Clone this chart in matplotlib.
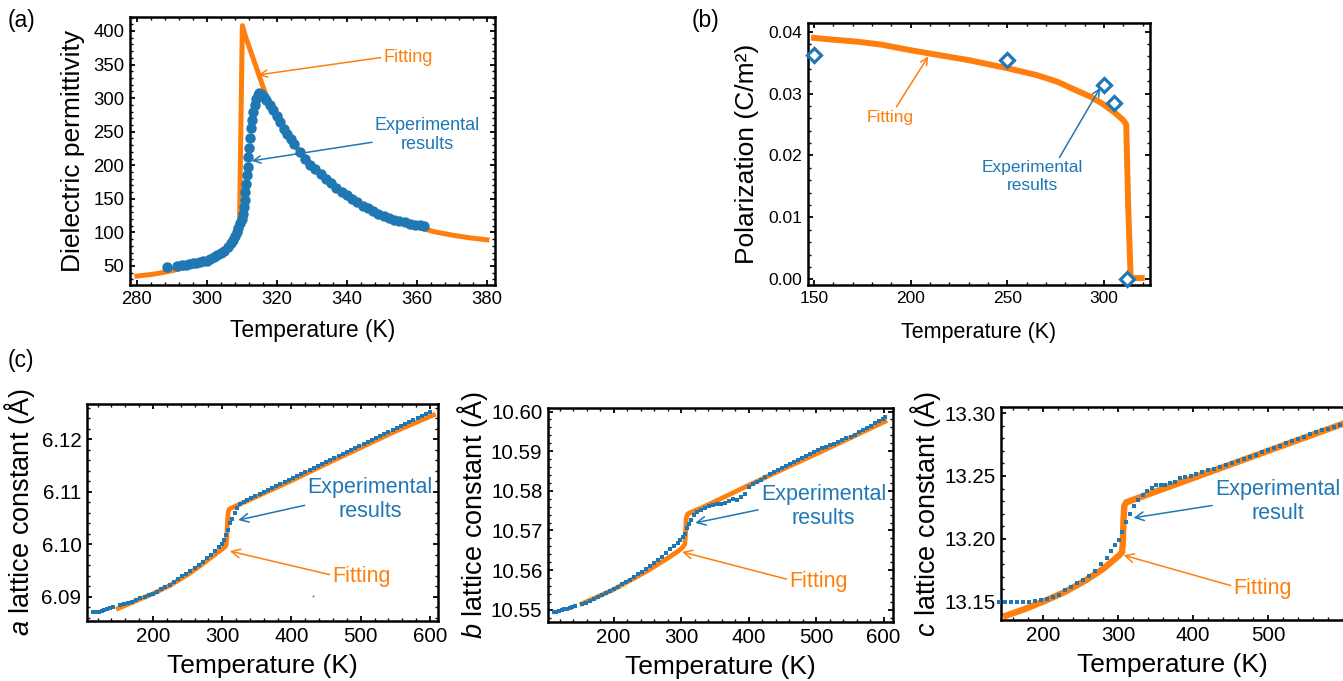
import numpy as np
import matplotlib
matplotlib.use("Agg")
import matplotlib.pyplot as plt
from matplotlib.ticker import AutoMinorLocator, MultipleLocator, FixedLocator, FormatStrFormatter

plt.rcParams['font.family'] = ['Liberation Sans', 'DejaVu Sans']
plt.rcParams['mathtext.fontset'] = 'custom'
plt.rcParams['mathtext.it'] = 'Liberation Sans:italic'
plt.rcParams['mathtext.rm'] = 'Liberation Sans'

orange = '#ff7f0e'
blue = '#1f77b4'

# (a) dielectric permittivity
a_exp_T = [288.7, 291.5, 293, 294, 295, 296, 297, 298, 299, 300, 301, 302, 303, 304, 305, 306, 307,
           307.5, 308, 308.5, 309, 309.5, 309.9, 310.2, 310.5, 310.8, 311, 311.2, 311.4, 311.6, 311.8,
           312, 312.2, 312.5, 312.8, 313.2, 313.6, 314, 314.5, 315, 315.5, 316.2, 317, 318, 319, 320,
           321, 322, 323, 324, 325, 326.5, 328, 329.5, 331, 332.5, 334, 335.5, 337, 338.5, 340, 341.5,
           343, 344.5, 346, 347.5, 349, 350.5, 352, 353.5, 355, 356.5, 358, 359.5, 361, 362]
a_exp_eps = [49, 50, 51, 52, 53, 54, 55, 56, 57, 58, 60, 63, 66, 69, 73, 78, 84,
             89, 94, 100, 106, 114, 120, 128, 138, 148, 160, 172, 185, 198, 212,
             226, 240, 255, 268, 280, 290, 298, 304, 307, 306, 302, 297, 290, 282, 274,
             264, 254, 246, 239, 232, 220, 210, 201, 194, 187, 180, 173, 166, 160, 155, 150,
             145, 140, 136, 132, 128, 125, 122, 119, 117, 115, 113, 111.5, 110.5, 110]
a_fit_T = [280, 285, 290, 294, 298, 301, 303, 305, 306.5, 307.5, 308.2, 308.8, 309.3, 310.1, 311, 312,
           313, 314, 315, 316, 317, 318, 319, 320, 322, 324, 326, 328, 330, 333, 336, 340, 344, 348,
           352, 356, 360, 365, 370, 375, 380]
a_fit_eps = [35, 38, 43, 48, 54, 60, 65, 71, 78, 85, 92, 100, 115, 408, 392, 377,
             362, 347, 332, 317, 303, 292, 282, 272, 254, 238, 224, 211, 199, 184, 171, 155, 142, 131,
             122, 114, 108, 101, 96, 92, 89]

# (b) polarization
b_fit_T = [150, 160, 172, 185, 200, 215, 230, 250, 265, 276, 285, 293, 300, 306, 310, 311.5, 312.5,
           313.8, 316, 319.5]
b_fit_P = [0.0390, 0.0387, 0.0384, 0.0379, 0.0370, 0.0362, 0.0354, 0.0341, 0.0330, 0.0319, 0.0306,
           0.0295, 0.0282, 0.0268, 0.0257, 0.0250, 0.0120, 0.0002, 0.0002, 0.0002]
b_exp_T = [150, 250, 300, 305, 312]
b_exp_P = [0.0362, 0.0355, 0.0314, 0.0284, 0.0]

# (c) a lattice constant
ca_exp_T = [114, 118, 122, 126, 130, 134, 138, 142, 152, 158, 164, 170, 176, 182, 188, 194, 200,
            206, 212, 218, 224, 230, 236, 242, 248, 254, 260, 266, 272, 278, 284, 290, 295, 299,
            302, 305, 308, 311, 314, 318, 322, 326, 331, 336, 342, 348, 354, 360, 366, 372, 378,
            384, 390, 396, 402, 408, 414, 420, 426, 432, 438, 444, 450, 456, 462, 468, 474, 480,
            486, 492, 498, 504, 510, 516, 522, 528, 534, 540, 546, 552, 558, 564, 570, 576, 582,
            588, 594, 600]
ca_exp_a = [6.0871, 6.0871, 6.0872, 6.0873, 6.0875, 6.0876, 6.0878, 6.0880, 6.0884, 6.0886, 6.0888,
            6.0891, 6.0894, 6.0897, 6.0900, 6.0903, 6.0906, 6.0910, 6.0914, 6.0918, 6.0923, 6.0928,
            6.0933, 6.0939, 6.0944, 6.0950, 6.0955, 6.0961, 6.0967, 6.0973, 6.0980, 6.0987, 6.0994,
            6.1001, 6.1008, 6.1017, 6.1028, 6.1040, 6.1049, 6.1060, 6.1070, 6.1077, 6.1081, 6.1085,
            6.1088, 6.1092, 6.1096, 6.1100, 6.1104, 6.1108, 6.1111, 6.1115, 6.1119, 6.1123, 6.1127,
            6.1130, 6.1134, 6.1138, 6.1142, 6.1145, 6.1149, 6.1153, 6.1157, 6.1161, 6.1164, 6.1168,
            6.1172, 6.1176, 6.1180, 6.1183, 6.1187, 6.1191, 6.1195, 6.1198, 6.1202, 6.1206, 6.1210,
            6.1214, 6.1217, 6.1221, 6.1225, 6.1229, 6.1232, 6.1236, 6.1240, 6.1244, 6.1248, 6.1251]
ca_stray_T = [431.5]
ca_stray_a = [6.0901]
ca_fit_T = [150, 175, 200, 225, 250, 270, 285, 295, 301, 303, 305.5, 306.5, 307.5, 308.5, 310, 330,
            350, 400, 450, 500, 550, 605]
ca_fit_a = [6.0878, 6.0892, 6.0906, 6.0922, 6.0942, 6.0961, 6.0976, 6.0986, 6.0992, 6.0994, 6.0998,
            6.1010, 6.1040, 6.1060, 6.1067, 6.1079, 6.1091, 6.1121, 6.1153, 6.1184, 6.1215, 6.1246]

# (c) b lattice constant
cb_exp_T = [111, 115, 119, 123, 127, 131, 135, 139, 143, 153, 159, 165, 171, 177, 183, 189, 195, 200,
            206, 212, 218, 224, 230, 236, 242, 248, 254, 260, 266, 272, 278, 284, 290, 295, 299, 303,
            306, 309, 312, 315, 319, 324, 329, 335, 341, 347, 353, 359, 365, 371, 377, 383, 389, 395,
            401, 407, 413, 419, 425, 431, 437, 443, 449, 455, 461, 467, 473, 479, 485, 491, 497, 503,
            509, 515, 521, 527, 533, 539, 545, 551, 557, 563, 569, 575, 581, 587, 593, 599, 602]
cb_exp_b = [10.5494, 10.5495, 10.5497, 10.5499, 10.5501, 10.5503, 10.5505, 10.5507, 10.5510, 10.5514,
            10.5518, 10.5523, 10.5528, 10.5533, 10.5538, 10.5543, 10.5548, 10.5553, 10.5558, 10.5564,
            10.5570, 10.5576, 10.5583, 10.5589, 10.5596, 10.5603, 10.5610, 10.5618, 10.5626, 10.5634,
            10.5643, 10.5652, 10.5661, 10.5669, 10.5676, 10.5683, 10.5692, 10.5705, 10.5716, 10.5726,
            10.5738, 10.5746, 10.5751, 10.5756, 10.5761, 10.5765, 10.5768, 10.5766, 10.5770, 10.5774,
            10.5779, 10.5778, 10.5784, 10.5793, 10.5809, 10.5816, 10.5822, 10.5828, 10.5835, 10.5842,
            10.5848, 10.5853, 10.5858, 10.5863, 10.5868, 10.5873, 10.5878, 10.5884, 10.5889, 10.5894,
            10.5899, 10.5903, 10.5907, 10.5911, 10.5915, 10.5919, 10.5924, 10.5928, 10.5933, 10.5937,
            10.5940, 10.5948, 10.5954, 10.5958, 10.5963, 10.5970, 10.5977, 10.5982, 10.5986]
cb_fit_T = [153, 200, 250, 280, 295, 302, 305.5, 306.5, 307.5, 309, 311, 330, 350, 400, 450, 500,
            550, 602]
cb_fit_b = [10.5515, 10.5551, 10.5598, 10.5630, 10.5647, 10.5657, 10.5665, 10.5690, 10.5730, 10.5740,
            10.5743, 10.5757, 10.5773, 10.5814, 10.5854, 10.5893, 10.5933, 10.5975]

# (c) c lattice constant
cc_exp_T = [142, 150, 158, 166, 174, 182, 190, 198, 206, 214, 222, 230, 238, 246, 254, 262, 270, 278,
            285, 291, 296, 301, 306, 311, 316, 321, 327, 333, 339, 345, 351, 357, 363, 369, 376, 383,
            390, 397, 404, 412, 420, 428, 436, 444, 452, 460, 468, 476, 484, 492, 500, 508, 516, 524,
            532, 540, 548, 556, 564, 572, 580, 588, 596]
cc_exp_c = [13.1500, 13.1500, 13.1499, 13.1499, 13.1500, 13.1502, 13.1505, 13.1510, 13.1520, 13.1535,
            13.1555, 13.1590, 13.1620, 13.1647, 13.1676, 13.1706, 13.1745, 13.1800, 13.1850, 13.1905,
            13.1950, 13.1992, 13.2055, 13.2130, 13.2200, 13.2265, 13.2310, 13.2345, 13.2380, 13.2405,
            13.2425, 13.2430, 13.2425, 13.2440, 13.2455, 13.2480, 13.2490, 13.2500, 13.2515, 13.2530,
            13.2545, 13.2555, 13.2568, 13.2585, 13.2600, 13.2618, 13.2635, 13.2652, 13.2670, 13.2688,
            13.2705, 13.2722, 13.2740, 13.2758, 13.2776, 13.2793, 13.2812, 13.2830, 13.2848, 13.2862,
            13.2877, 13.2893, 13.2905]
cc_fit_T = [151, 175, 200, 230, 257, 280, 295, 302, 305.5, 306.5, 307.5, 308.5, 311, 350, 400, 450,
            500, 550, 600]
cc_fit_c = [13.1390, 13.1440, 13.1500, 13.1580, 13.1670, 13.1760, 13.1835, 13.1870, 13.1895, 13.1960,
            13.2150, 13.2260, 13.2290, 13.2375, 13.2483, 13.2591, 13.2699, 13.2807, 13.2915]

fig = plt.figure(figsize=(13.43, 6.81), dpi=100)


def style_axes(ax, tick_fs):
    for sp in ax.spines.values():
        sp.set_linewidth(1.8)
    ax.xaxis.set_minor_locator(AutoMinorLocator(5))
    ax.yaxis.set_minor_locator(AutoMinorLocator(5))
    ax.tick_params(which='both', direction='in', top=True, right=True, labelsize=tick_fs, pad=4)
    ax.tick_params(which='major', length=3.5, width=1.3)
    ax.tick_params(which='minor', length=2, width=1.0)


def note(ax, text, xy, xytext, color, fs, relpos=(0.5, 0.5), shrinkA=0):
    ax.annotate(text, xy=xy, xytext=xytext, color=color, fontsize=fs, ha='center', va='center',
                linespacing=1.2,
                arrowprops=dict(arrowstyle='->', color=color, lw=1.1, shrinkA=shrinkA, shrinkB=0,
                                relpos=relpos))


# panel (a)
ax1 = fig.add_axes([130/1343, 1-285/681, 365/1343, 268/681])
ax1.plot(a_fit_T, a_fit_eps, color=orange, lw=3.6, zorder=2)
ax1.plot(a_exp_T, a_exp_eps, 'o', color=blue, ms=6.5, zorder=3)
ax1.set_xlim(278, 382.3)
ax1.set_ylim(21.7, 420.8)
ax1.xaxis.set_major_locator(MultipleLocator(20))
ax1.yaxis.set_major_locator(MultipleLocator(50))
style_axes(ax1, 13.3)
ax1.set_xlabel('Temperature (K)', fontsize=16.5, labelpad=8)
ax1.set_ylabel('Dielectric permittivity', fontsize=19, labelpad=6)
note(ax1, 'Fitting', (314.7, 334.6), (357.5, 361), orange, 13, relpos=(0.0, 0.5))
note(ax1, 'Experimental\nresults', (312.8, 206.5), (363, 245), blue, 13, relpos=(0.08, 0.35))

# panel (b)
ax2 = fig.add_axes([808/1343, 1-285/681, 342/1343, 262/681])
ax2.plot(b_fit_T, b_fit_P, color=orange, lw=4.3, zorder=2)
ax2.plot(b_exp_T, b_exp_P, 'D', color=blue, mfc='white', mew=2.3, ms=7, zorder=3, clip_on=False)
ax2.set_xlim(146.9, 323.8)
ax2.set_ylim(-0.00092, 0.0414)
ax2.xaxis.set_major_locator(MultipleLocator(50))
ax2.yaxis.set_major_locator(MultipleLocator(0.01))
ax2.yaxis.set_major_formatter(FormatStrFormatter('%.2f'))
style_axes(ax2, 12.5)
ax2.set_xlabel('Temperature (K)', fontsize=15.5, labelpad=12)
ax2.set_ylabel('Polarization (C/m²)', fontsize=19, labelpad=7)
note(ax2, 'Fitting', (209.1, 0.0360), (189.3, 0.0262), orange, 12.5, relpos=(0.6, 1.0))
note(ax2, 'Experimental\nresults', (298, 0.0309), (263, 0.0166), blue, 12.5, relpos=(0.75, 1.0))

# panel (c) - a
ax3 = fig.add_axes([87/1343, 1-621/681, 351/1343, 217/681])
ax3.plot(ca_fit_T, ca_fit_a, color=orange, lw=3.4, zorder=2)
ax3.plot(ca_exp_T, ca_exp_a, 's', color=blue, ms=3.5, mew=0, zorder=3)
ax3.plot(ca_stray_T, ca_stray_a, 's', color=blue, ms=1.2, mew=0, zorder=3)
ax3.set_xlim(104.8, 611.5)
ax3.set_ylim(6.0854, 6.1267)
ax3.xaxis.set_major_locator(MultipleLocator(100))
ax3.yaxis.set_major_locator(MultipleLocator(0.01))
ax3.yaxis.set_major_formatter(FormatStrFormatter('%.2f'))
style_axes(ax3, 14.8)
ax3.set_xlabel('Temperature (K)', fontsize=19, labelpad=6)
ax3.set_ylabel(r'$\it{a}$ lattice constant (Å)', fontsize=19.5, labelpad=3)
note(ax3, 'Experimental\nresults', (323.2, 6.1046), (513.4, 6.1085), blue, 15.5, relpos=(0.1, 0.45))
note(ax3, 'Fitting', (311, 6.0987), (501.4, 6.0939), orange, 15.5, relpos=(0.0, 0.55))

# panel (c) - b
ax4 = fig.add_axes([548/1343, 1-622/681, 345/1343, 214/681])
ax4.plot(cb_fit_T, cb_fit_b, color=orange, lw=3.4, zorder=2)
ax4.plot(cb_exp_T, cb_exp_b, 's', color=blue, ms=3.5, mew=0, zorder=3)
ax4.set_xlim(102.8, 613.9)
ax4.set_ylim(10.5469, 10.6009)
ax4.xaxis.set_major_locator(MultipleLocator(100))
ax4.yaxis.set_major_locator(MultipleLocator(0.01))
ax4.yaxis.set_major_formatter(FormatStrFormatter('%.2f'))
style_axes(ax4, 14.8)
ax4.set_xlabel('Temperature (K)', fontsize=19, labelpad=6)
ax4.set_ylabel(r'$\it{b}$ lattice constant (Å)', fontsize=19.5, labelpad=1)
note(ax4, 'Experimental\nresults', (321, 10.5719), (511, 10.5760), blue, 15.5, relpos=(0.1, 0.5))
note(ax4, 'Fitting', (301.3, 10.5646), (503.7, 10.5570), orange, 15.5, relpos=(0.0, 0.6))

# panel (c) - c, the frame runs past the right edge of the picture
ax5 = fig.add_axes([1001/1343, 1-620/681, 342/1343, 213/681])
ax5.plot(cc_fit_T, cc_fit_c, color=orange, lw=4.6, zorder=2)
ax5.plot(cc_exp_T, cc_exp_c, 's', color=blue, ms=3.5, mew=0, zorder=3, clip_on=False)
ax5.set_xlim(144.2, 600)
ax5.set_ylim(13.1355, 13.3048)
ax5.xaxis.set_major_locator(FixedLocator([200, 300, 400, 500]))
ax5.yaxis.set_major_locator(MultipleLocator(0.05))
ax5.yaxis.set_major_formatter(FormatStrFormatter('%.2f'))
style_axes(ax5, 14.8)
ax5.spines['right'].set_visible(False)
ax5.tick_params(right=False, which='both')
ax5.set_xlabel('Temperature (K)', fontsize=19, labelpad=6)
ax5.set_ylabel(r'$\it{c}$ lattice constant (Å)', fontsize=19.5, labelpad=1)
note(ax5, 'Experimental\nresult', (320.8, 13.2167), (512.7, 13.2299), blue, 15.5, relpos=(0.08, 0.45))
note(ax5, 'Fitting', (307.6, 13.187), (492.9, 13.1606), orange, 15.5, relpos=(0.0, 0.6))

# panel letters
fig.text(8/1343, 1-20/681, '(a)', fontsize=16.5, va='center')
fig.text(692/1343, 1-20/681, '(b)', fontsize=16.5, va='center')
fig.text(8/1343, 1-360/681, '(c)', fontsize=16.5, va='center')

plt.savefig('out.png', dpi=100)
